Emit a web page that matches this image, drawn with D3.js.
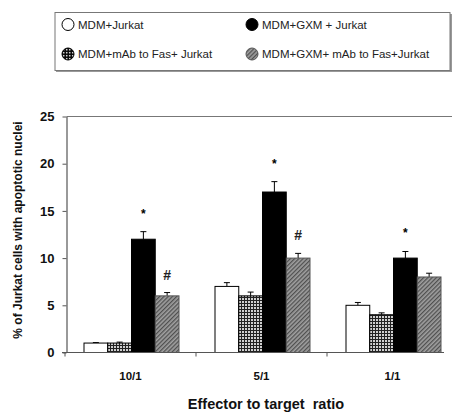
<!DOCTYPE html>
<html>
<head>
<meta charset="utf-8">
<script src="https://cdn.jsdelivr.net/npm/d3@7"></script>
<style>
  body { margin: 0; background: #fff; }
  svg { display: block; font-family: "Liberation Sans", Arial, sans-serif; }
</style>
</head>
<body>
<div id="chart"></div>
<script>
// data
let ratios = ["10/1", "5/1", "1/1"];
let groups = ["MDM+Jurkat", "MDM+mAb to Fas+ Jurkat", "MDM+GXM + Jurkat", "MDM+GXM+ mAb to Fas+Jurkat"];
let means = [
  [1.0, 1.0, 12.0, 6.0],
  [7.0, 6.0, 17.0, 10.0],
  [5.0, 4.0, 10.0, 8.0]
];
let errors = [
  [0.05, 0.1, 0.8, 0.35],
  [0.4, 0.4, 1.1, 0.5],
  [0.3, 0.2, 0.7, 0.4]
];
let marks = [
  ["", "", "*", "#"],
  ["", "", "*", "#"],
  ["", "", "*", ""]
];
let yTicks = [0, 5, 10, 15, 20, 25];
// legend order: left column then right column, row by row
let legendOrder = [0, 2, 1, 3];

let W = 452, H = 417;
let svg = d3.select("#chart").append("svg")
    .attr("width", W)
    .attr("height", H);

// fills
let defs = svg.append("defs");
let grid = defs.append("pattern")
    .attr("id", "grid")
    .attr("patternUnits", "userSpaceOnUse")
    .attr("width", 3).attr("height", 3);
grid.append("rect").attr("width", 3).attr("height", 3).attr("fill", "#d0d0d0");
grid.append("rect").attr("width", 3).attr("height", 1).attr("fill", "#222");
grid.append("rect").attr("width", 1).attr("height", 3).attr("fill", "#222");

let hatch = defs.append("pattern")
    .attr("id", "hatch")
    .attr("patternUnits", "userSpaceOnUse")
    .attr("width", 3).attr("height", 3)
    .attr("patternTransform", "rotate(45)");
hatch.append("rect").attr("width", 3).attr("height", 3).attr("fill", "#a0a0a0");
hatch.append("rect").attr("width", 1.3).attr("height", 3).attr("fill", "#505050");

let fills = ["#fff", "url(#grid)", "#000", "url(#hatch)"];

// legend
let legend = svg.append("g");
legend.append("rect")
    .attr("x", 56).attr("y", 14)
    .attr("width", 396).attr("height", 58)
    .attr("fill", "#999");
legend.append("rect")
    .attr("x", 55).attr("y", 12.5)
    .attr("width", 395).attr("height", 58)
    .attr("fill", "#fff")
    .attr("stroke", "#777")
    .attr("stroke-width", 1);

let legItems = legend.selectAll(".item")
    .data(legendOrder)
    .enter().append("g")
    .attr("transform", (d, i) => `translate(${i % 2 === 0 ? 68 : 252}, ${i < 2 ? 24.5 : 54})`);
legItems.append("circle")
    .attr("r", 6)
    .attr("fill", d => fills[d])
    .attr("stroke", d => d === 3 ? "#555" : "#000")
    .attr("stroke-width", 1);
legItems.filter(d => d === 1).append("path")
    .attr("d", "M-6,0H6M0,-6V6M-5,-3H5M-5,3H5M-3,-5V5M3,-5V5")
    .attr("stroke", "#000")
    .attr("stroke-width", 1);
legItems.append("text")
    .attr("x", 10)
    .attr("y", 4)
    .attr("font-size", "11.5px")
    .attr("fill", "#222")
    .text(d => groups[d]);

// plot
let margin = { top: 116.5, left: 66.5, bottom: 352.5 };
let x0 = d3.scaleBand()
    .domain(ratios)
    .range([65, 458]);
let x1 = d3.scaleBand()
    .domain(d3.range(groups.length))
    .range([19, 114]);
let y = d3.scaleLinear()
    .domain([0, 25])
    .range([margin.bottom, margin.top]);

let plot = svg.append("g");

// top border of plot frame
plot.append("line")
    .attr("x1", margin.left).attr("x2", W)
    .attr("y1", y(25)).attr("y2", y(25))
    .attr("stroke", "#777").attr("stroke-width", 1.2);

// bars
let cats = plot.selectAll(".cat")
    .data(ratios)
    .enter().append("g")
    .attr("transform", d => `translate(${x0(d)}, 0)`);

let bars = cats.selectAll(".bar")
    .data((d, ci) => means[ci].map((v, gi) => ({ v: v, e: errors[ci][gi], m: marks[ci][gi], g: gi })))
    .enter().append("g");

// error bars (upper only)
bars.append("line")
    .attr("x1", d => x1(d.g) + x1.bandwidth() / 2)
    .attr("x2", d => x1(d.g) + x1.bandwidth() / 2)
    .attr("y1", d => y(d.v))
    .attr("y2", d => y(d.v + d.e))
    .attr("stroke", "#000").attr("stroke-width", 1);
bars.append("line")
    .attr("x1", d => x1(d.g) + x1.bandwidth() / 2 - 3)
    .attr("x2", d => x1(d.g) + x1.bandwidth() / 2 + 3)
    .attr("y1", d => y(d.v + d.e))
    .attr("y2", d => y(d.v + d.e))
    .attr("stroke", "#000").attr("stroke-width", 1);

bars.append("rect")
    .attr("x", d => x1(d.g))
    .attr("y", d => y(d.v))
    .attr("width", x1.bandwidth())
    .attr("height", d => y(0) - y(d.v))
    .attr("fill", d => fills[d.g])
    .attr("stroke", d => d.g === 3 ? "#555" : "#000")
    .attr("stroke-width", 1);

// significance marks
bars.filter(d => d.m === "*").append("text")
    .attr("x", d => x1(d.g) + x1.bandwidth() / 2)
    .attr("y", d => y(d.v + d.e) - 14)
    .attr("text-anchor", "middle")
    .attr("font-size", "12px")
    .attr("font-weight", "bold")
    .text(d => d.m);
bars.filter(d => d.m === "#").append("text")
    .attr("x", d => x1(d.g) + x1.bandwidth() / 2)
    .attr("y", d => y(d.v + d.e) - 13)
    .attr("text-anchor", "middle")
    .attr("font-size", "14px")
    .attr("font-weight", "bold")
    .attr("fill", "#222")
    .text(d => d.m);

// y axis
let yAxis = d3.axisLeft(y)
    .tickValues(yTicks)
    .tickSize(4)
    .tickSizeOuter(0)
    .tickPadding(8);
let yg = plot.append("g")
    .attr("transform", `translate(${margin.left}, 0)`)
    .call(yAxis);
yg.select(".domain").attr("stroke", "#555").attr("stroke-width", 1.2);
yg.selectAll(".tick line").attr("stroke", "#555");
yg.selectAll(".tick text")
    .attr("font-size", "13px")
    .attr("font-weight", "bold")
    .attr("fill", "#111")
    .attr("font-family", "Liberation Sans, Arial, sans-serif");

// x axis: line with ticks between the categories
let xg = plot.append("g");
xg.append("line")
    .attr("x1", 62).attr("x2", 444)
    .attr("y1", y(0)).attr("y2", y(0))
    .attr("stroke", "#555").attr("stroke-width", 1.2);
xg.selectAll(".xtick")
    .data(ratios)
    .enter().append("line")
    .attr("x1", d => x0(d)).attr("x2", d => x0(d))
    .attr("y1", y(0)).attr("y2", y(0) + 4)
    .attr("stroke", "#555");
xg.selectAll(".xlab")
    .data(ratios)
    .enter().append("text")
    .attr("x", d => x0(d) + x0.bandwidth() / 2)
    .attr("y", 380)
    .attr("text-anchor", "middle")
    .attr("font-size", "11.5px")
    .attr("font-weight", "bold")
    .attr("fill", "#111")
    .text(d => d);

// axis titles
svg.append("text")
    .attr("x", 266)
    .attr("y", 409)
    .attr("text-anchor", "middle")
    .attr("font-size", "14.5px")
    .attr("font-weight", "bold")
    .attr("fill", "#111")
    .style("white-space", "pre")
    .text("Effector to target  ratio");

svg.append("text")
    .attr("transform", "translate(22, 230) rotate(-90)")
    .attr("text-anchor", "middle")
    .attr("font-size", "12px")
    .attr("font-weight", "bold")
    .attr("fill", "#111")
    .text("% of Jurkat cells with apoptotic nuclei");
</script>
</body>
</html>
